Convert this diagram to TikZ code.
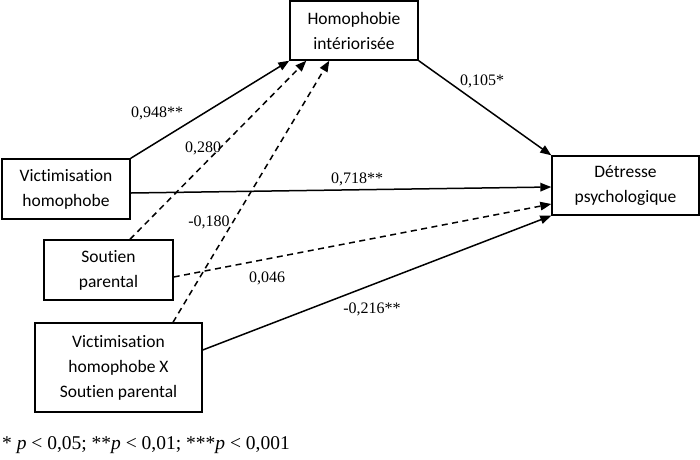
\documentclass[tikz,border=0pt]{standalone}
\usepackage{fontspec}
\setmainfont{Liberation Serif}
\newfontfamily\boxfont[Ligatures=NoCommon,RawFeature={-calt;-liga;-dlig}]{Carlito}
\usetikzlibrary{arrows.meta}
\begin{document}
\begin{tikzpicture}[x=1pt,y=-1pt,
  varbox/.style={draw,line width=1.4pt,align=center,inner sep=0pt,font=\boxfont\fontsize{17.5}{25}\selectfont},
  coef/.style={inner sep=0pt,font=\fontsize{16}{18}\selectfont},
  path/.style={line width=1.5pt,-{Triangle[length=11pt,width=8.5pt]}},
  nspath/.style={path,dash pattern=on 6pt off 4.5pt}]
\useasboundingbox (0,0) rectangle (700,459);
\node[varbox,minimum width=128pt,minimum height=59pt] (hi) at (354,30.5) {Homophobie\\intériorisée};
\node[varbox,minimum width=128pt,minimum height=60pt] (vh) at (66,189) {Victimisation\\homophobe};
\node[varbox,minimum width=129pt,minimum height=60pt] (sp) at (108.5,270) {Soutien\\parental};
\node[varbox,minimum width=167pt,minimum height=89pt] (vx) at (118.5,367.5) {Victimisation\\homophobe X\\Soutien parental};
\node[varbox,minimum width=147pt,minimum height=59pt] (d) at (625.5,185.5) {Détresse\\psychologique};
\draw[path] (vh.north east) -- (hi.south west);
\draw[nspath] ([xshift=21.5pt]sp.north) -- ([xshift=17pt]hi.south west);
\draw[nspath] ([xshift=54.5pt]vx.north) -- ([xshift=40pt]hi.south west);
\draw[path] (hi.south east) -- (d.north west);
\draw[path] ([yshift=-4pt]vh.east) -- ([yshift=-1.5pt]d.west);
\draw[nspath] ([yshift=-7pt]sp.east) -- ([yshift=-18.5pt]d.west);
\draw[path] ([yshift=17.5pt]vx.east) -- (d.south west);
\node[coef] (l1) at (157,113) {0,948**};
\node[coef] (l2) at (203,148) {0,280};
\node[coef] (l3) at (357,179) {0,718**};
\node[coef] (l4) at (209,222) {-0,180};
\node[coef] (l5) at (267,278) {0,046};
\node[coef] (l6) at (372,309) {-0,216**};
\node[coef] (l7) at (482,81) {0,105*};
\node[coef,anchor=west,font=\fontsize{19.5}{22}\selectfont] (fn) at (2,445) {* \textit{p} < 0,05; **\textit{p} < 0,01; ***\textit{p} < 0,001};
\end{tikzpicture}
\end{document}
